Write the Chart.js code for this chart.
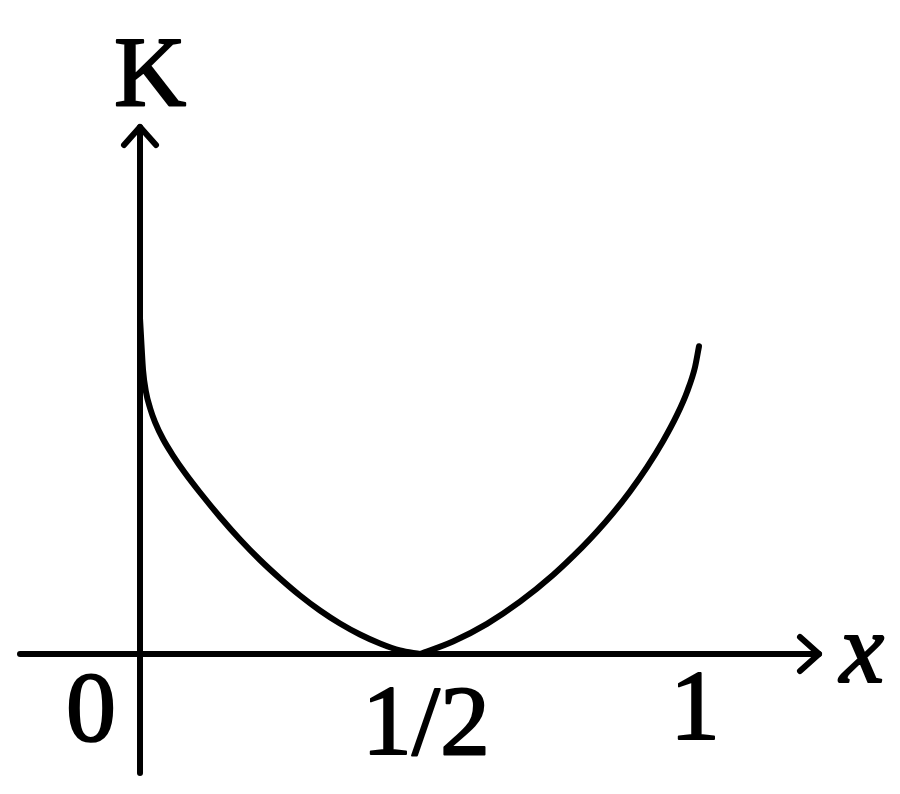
<!DOCTYPE html>
<html>
<head>
<meta charset="utf-8">
<script src="https://cdn.jsdelivr.net/npm/chart.js@4.4.0/dist/chart.umd.min.js"></script>
<style>
html,body{margin:0;padding:0;background:#fff;}
canvas{display:block;}
</style>
</head>
<body>
<canvas id="c" width="900" height="794"></canvas>
<script>
// Data (x in units of the full range, K in relative units)
const leftX  = [0, 0.0027, 0.0054, 0.0107, 0.0179, 0.0268, 0.0411, 0.0589, 0.0804, 0.1071, 0.1429, 0.1786, 0.2143, 0.25, 0.2857, 0.3214, 0.3571, 0.3929, 0.4286, 0.4643, 0.5];
const leftK  = [1.018, 0.936, 0.861, 0.794, 0.7455, 0.703, 0.6515, 0.6015, 0.5485, 0.4894, 0.4152, 0.347, 0.2848, 0.2288, 0.1773, 0.1318, 0.0924, 0.0591, 0.0318, 0.0106, 0];
const rightX = [0.5, 0.5589, 0.6196, 0.6786, 0.7375, 0.7893, 0.8161, 0.8446, 0.875, 0.9054, 0.9339, 0.9589, 0.9768, 0.9911, 0.9982];
const rightK = [0, 0.038, 0.0915, 0.1585, 0.2394, 0.323, 0.3709, 0.4267, 0.4927, 0.5664, 0.6448, 0.7245, 0.7942, 0.8694, 0.9324];
const xTickValues = [0, 0.5, 1];
const xTickLabels = ['0', '1/2', '1'];
const yAxisTitle = 'K';
const xAxisTitle = 'x';

const pts = (xs, ys) => xs.map((x, i) => ({x: x, y: ys[i]}));

function heavyText(ctx, txt, x, y) {
  ctx.fillText(txt, x, y);
  ctx.strokeText(txt, x, y);
}

const axesPlugin = {
  id: 'axesPlugin',
  beforeDatasetsDraw(chart) {
    const ctx = chart.ctx;
    const xs = chart.scales.x, ys = chart.scales.y;
    const a = chart.chartArea;
    const x0 = xs.getPixelForValue(0), y0 = ys.getPixelForValue(0);
    ctx.save();
    ctx.strokeStyle = '#000';
    ctx.lineWidth = 6;
    ctx.lineCap = 'round';
    ctx.lineJoin = 'round';
    // x axis
    ctx.beginPath();
    ctx.moveTo(a.left, y0);
    ctx.lineTo(a.right, y0);
    ctx.stroke();
    ctx.beginPath();
    ctx.moveTo(a.right - 19, y0 - 17);
    ctx.lineTo(a.right, y0);
    ctx.lineTo(a.right - 19, y0 + 17);
    ctx.stroke();
    // y axis
    ctx.beginPath();
    ctx.moveTo(x0, a.bottom);
    ctx.lineTo(x0, a.top);
    ctx.stroke();
    ctx.beginPath();
    ctx.moveTo(x0 - 16, a.top + 18);
    ctx.lineTo(x0, a.top);
    ctx.lineTo(x0 + 16, a.top + 18);
    ctx.stroke();
    ctx.restore();
  },
  afterDraw(chart) {
    const ctx = chart.ctx;
    const xs = chart.scales.x, ys = chart.scales.y;
    const a = chart.chartArea;
    const x0 = xs.getPixelForValue(0), y0 = ys.getPixelForValue(0);
    ctx.save();
    ctx.fillStyle = '#000';
    ctx.strokeStyle = '#000';
    ctx.lineWidth = 2;
    ctx.lineJoin = 'round';
    ctx.textAlign = 'center';
    ctx.textBaseline = 'alphabetic';
    ctx.font = '100px "Liberation Serif", "Times New Roman", serif';
    // tick labels
    const dx = [-49, 6, -5];
    const dy = [86, 100, 85];
    xTickValues.forEach((v, i) => {
      heavyText(ctx, xTickLabels[i], xs.getPixelForValue(v) + dx[i], y0 + dy[i]);
    });
    // axis titles
    heavyText(ctx, yAxisTitle, x0 + 10, a.top - 22);
    ctx.font = 'italic 100px "Liberation Serif", "Times New Roman", serif';
    heavyText(ctx, xAxisTitle, a.right + 43, y0 + 28);
    ctx.restore();
  }
};

new Chart(document.getElementById('c'), {
  type: 'scatter',
  data: {
    datasets: [
      {data: pts(leftX, leftK), showLine: true, borderColor: '#000', borderWidth: 6, pointRadius: 0, cubicInterpolationMode: 'monotone', fill: false, borderCapStyle: 'round'},
      {data: pts(rightX, rightK), showLine: true, borderColor: '#000', borderWidth: 6, pointRadius: 0, cubicInterpolationMode: 'monotone', fill: false, borderCapStyle: 'round'}
    ]
  },
  options: {
    responsive: false,
    animation: false,
    devicePixelRatio: 1,
    layout: {padding: {left: 20, right: 81, top: 127, bottom: 21}},
    plugins: {legend: {display: false}, tooltip: {enabled: false}},
    scales: {
      x: {type: 'linear', display: false, min: -0.2143, max: 1.2125},
      y: {type: 'linear', display: false, min: -0.3606, max: 1.597}
    }
  },
  plugins: [axesPlugin]
});
</script>
</body>
</html>
